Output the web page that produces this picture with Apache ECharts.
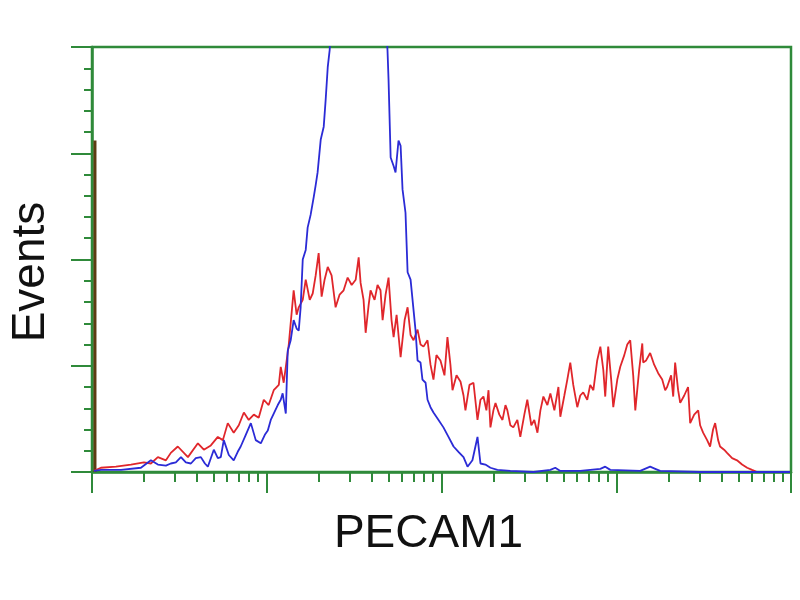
<!DOCTYPE html>
<html>
<head>
<meta charset="utf-8">
<script src="https://cdn.jsdelivr.net/npm/echarts@6/dist/echarts.min.js"></script>
<style>html,body{margin:0;padding:0;background:#fff;}#c{width:800px;height:600px;}</style>
</head>
<body>
<div id="c"></div>
<script>
// x values: log10 of PECAM1 fluorescence intensity (decades), y: events
const redX = [0.011,0.051,0.137,0.223,0.297,0.337,0.377,0.423,0.451,0.491,0.549,0.606,0.640,0.680,0.720,0.749,0.777,0.811,0.840,0.869,0.897,0.926,0.954,0.983,1.011,1.040,1.069,1.080,1.097,1.126,1.154,1.171,1.183,1.206,1.223,1.246,1.263,1.280,1.297,1.314,1.331,1.349,1.371,1.394,1.417,1.440,1.463,1.486,1.509,1.526,1.537,1.554,1.566,1.583,1.594,1.617,1.634,1.651,1.663,1.680,1.697,1.714,1.726,1.743,1.766,1.789,1.806,1.823,1.840,1.863,1.880,1.897,1.920,1.937,1.954,1.971,1.994,2.017,2.034,2.051,2.063,2.086,2.109,2.126,2.137,2.160,2.183,2.206,2.223,2.240,2.257,2.269,2.280,2.297,2.309,2.331,2.349,2.366,2.377,2.394,2.411,2.434,2.451,2.474,2.491,2.514,2.531,2.549,2.566,2.583,2.606,2.623,2.646,2.669,2.680,2.703,2.720,2.737,2.754,2.777,2.794,2.811,2.834,2.851,2.869,2.891,2.909,2.926,2.937,2.954,2.971,2.983,3.006,3.023,3.046,3.063,3.080,3.097,3.109,3.131,3.149,3.154,3.171,3.194,3.217,3.240,3.263,3.280,3.291,3.314,3.326,3.337,3.354,3.366,3.389,3.411,3.423,3.446,3.469,3.480,3.497,3.520,3.537,3.554,3.566,3.583,3.594,3.617,3.634,3.663,3.691,3.720,3.749,3.777,3.806,3.863,3.937,3.994];
const redY = [1,4,5,7,9,8,14,11,18,24,14,27,21,25,33,30,46,37,44,56,49,54,51,68,63,77,82,99,84,120,171,148,155,162,181,162,168,185,206,165,181,193,185,155,167,171,183,176,181,202,178,162,131,157,171,162,176,171,143,167,183,143,127,148,108,143,155,129,124,134,120,118,124,101,87,110,105,91,127,101,77,91,85,72,58,82,84,49,68,71,58,77,42,58,65,54,49,63,58,44,42,49,33,54,68,44,49,37,58,71,63,74,58,80,52,72,87,103,82,61,72,75,68,82,77,105,118,96,71,118,87,61,87,99,110,120,124,91,58,96,121,103,105,112,101,93,87,77,80,91,71,103,77,65,72,80,46,54,58,44,37,30,24,40,46,30,24,21,18,13,11,7,4,2,0,0,0,0];

const blueX = [0.011,0.051,0.166,0.280,0.337,0.377,0.423,0.451,0.480,0.509,0.537,0.566,0.594,0.623,0.646,0.663,0.697,0.720,0.737,0.754,0.783,0.811,0.834,0.851,0.880,0.909,0.937,0.966,0.989,1.006,1.023,1.040,1.063,1.080,1.091,1.109,1.120,1.137,1.154,1.171,1.183,1.194,1.206,1.223,1.234,1.251,1.269,1.280,1.291,1.309,1.326,1.337,1.349,1.360,1.371,1.423,1.480,1.537,1.594,1.651,1.680,1.691,1.697,1.709,1.726,1.737,1.754,1.766,1.777,1.794,1.806,1.823,1.834,1.851,1.863,1.880,1.891,1.909,1.920,1.937,1.954,1.983,2.011,2.040,2.069,2.097,2.126,2.149,2.177,2.206,2.223,2.251,2.280,2.320,2.394,2.526,2.623,2.651,2.680,2.794,2.909,2.937,2.966,3.137,3.194,3.223,3.251,3.480,3.994];
const blueY = [1,2,2,4,11,7,6,8,9,14,9,8,13,14,8,5,21,13,14,30,16,11,19,24,35,46,30,27,35,39,49,55,63,68,74,55,114,124,143,135,133,155,200,209,230,242,259,270,282,313,325,350,381,397,430,470,490,480,470,450,430,397,369,296,288,282,312,307,266,244,188,181,181,134,105,103,87,84,68,61,56,49,42,33,24,19,14,5,11,33,8,7,4,2,1,0,2,4,1,1,3,5,2,1,5,3,1,0,0];

const brownX = [0.017, 0.017];
const brownY = [0, 312];

const yMax = 400, yInterval = 100;
const xDecades = [0, 4];
const minorFactors = [2,3,4,5,6,7,8,9];

const GREEN = '#2f8a3a';
const minorTicks = [];
for (let d = xDecades[0]; d < xDecades[1]; d++) {
  minorFactors.forEach(k => minorTicks.push(d + Math.log10(k)));
}
const pair = (xs, ys) => xs.map((x, i) => [x, ys[i]]);

const grid = {left: 91, right: 9, top: 47, bottom: 128};
const chart = echarts.init(document.getElementById('c'), null, {renderer: 'canvas'});
chart.setOption({
  animation: false,
  backgroundColor: '#ffffff',
  grid: [
    Object.assign({show: true, borderColor: GREEN, borderWidth: 2.5, backgroundColor: 'transparent'}, grid),
    Object.assign({}, grid)
  ],
  xAxis: [
    {
      gridIndex: 0, type: 'value', min: xDecades[0], max: xDecades[1], interval: 1,
      name: 'PECAM1', nameLocation: 'middle', nameGap: 39,
      nameTextStyle: {fontFamily: 'Liberation Sans', fontSize: 46, color: '#111', padding: [0, 26, 0, 0]},
      axisLine: {show: true, lineStyle: {color: GREEN, width: 2.5}},
      axisTick: {show: true, length: 21, lineStyle: {color: GREEN, width: 2}},
      axisLabel: {show: false}, splitLine: {show: false}
    },
    {
      gridIndex: 1, type: 'value', min: xDecades[0], max: xDecades[1],
      axisLine: {show: false},
      axisTick: {show: true, length: 10, customValues: minorTicks, lineStyle: {color: GREEN, width: 2}},
      axisLabel: {show: false}, splitLine: {show: false}
    }
  ],
  yAxis: [
    {
      gridIndex: 0, type: 'value', min: 0, max: yMax, interval: yInterval,
      name: 'Events', nameLocation: 'middle', nameGap: 38, nameRotate: 90,
      nameTextStyle: {fontFamily: 'Liberation Sans', fontSize: 46, color: '#111', padding: [0, 25, 0, 0]},
      axisLine: {show: true, lineStyle: {color: GREEN, width: 2.5}},
      axisTick: {show: true, length: 21, lineStyle: {color: GREEN, width: 2}},
      minorTick: {show: true, splitNumber: 5, length: 8, lineStyle: {color: GREEN, width: 2}},
      axisLabel: {show: false}, splitLine: {show: false}
    },
    {
      gridIndex: 1, type: 'value', min: 0, max: yMax, show: false
    }
  ],
  series: [
    {
      name: 'Control', type: 'line', xAxisIndex: 0, yAxisIndex: 0,
      data: pair(brownX, brownY), showSymbol: false, symbol: 'none',
      lineStyle: {color: '#5e3b12', width: 3}
    },
    {
      name: 'PECAM1', type: 'line', xAxisIndex: 0, yAxisIndex: 0,
      data: pair(redX, redY), showSymbol: false, symbol: 'none',
      lineStyle: {color: '#e0262b', width: 1.8}
    },
    {
      name: 'Isotype', type: 'line', xAxisIndex: 0, yAxisIndex: 0,
      data: pair(blueX, blueY), showSymbol: false, symbol: 'none',
      lineStyle: {color: '#2b2bd6', width: 1.8}
    }
  ]
});
</script>
</body>
</html>
